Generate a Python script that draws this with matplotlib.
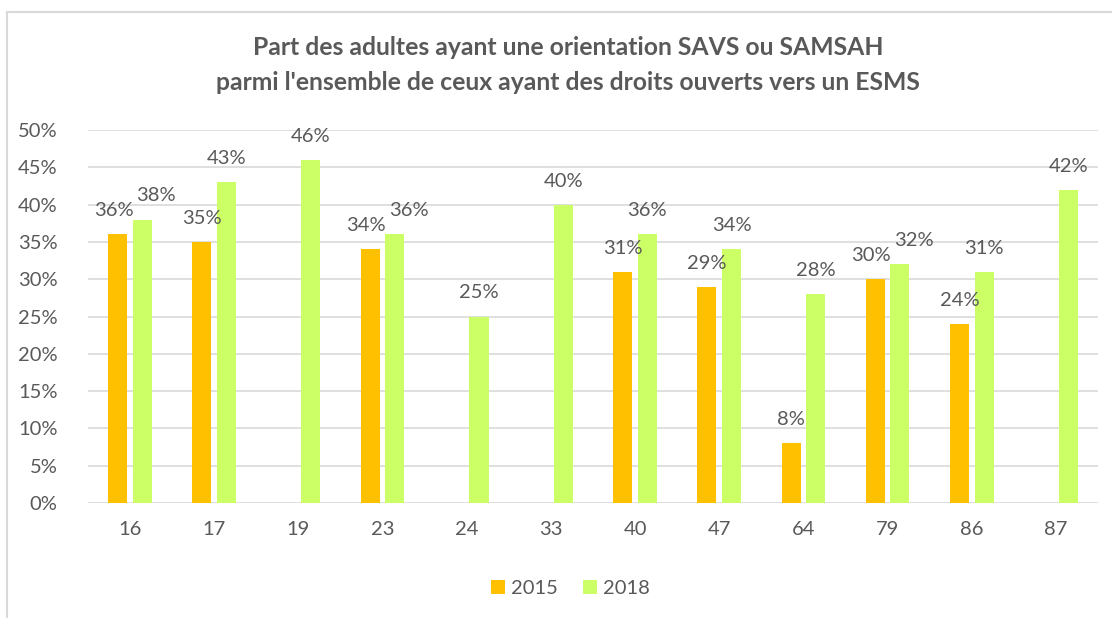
import numpy as np
import matplotlib.pyplot as plt
from matplotlib.patches import Rectangle
from matplotlib.ticker import PercentFormatter

plt.rcParams['font.family'] = ['Lato', 'DejaVu Sans']

departements = ["16", "17", "19", "23", "24", "33", "40", "47", "64", "79", "86", "87"]
part_2015 = [36, 35, None, 34, None, None, 31, 29, 8, 30, 24, None]
part_2018 = [38, 43, 46, 36, 25, 40, 36, 34, 28, 32, 31, 42]

col_2015 = "#FFC000"
col_2018 = "#CCFF66"
txt_col = "#595959"

fig = plt.figure(figsize=(11.12, 6.18), dpi=100)
fig.patches.append(Rectangle((7 / 1112, -0.1), 1.2, 1.1 - 12 / 618, transform=fig.transFigure,
                             fill=False, edgecolor="#d9d9d9", linewidth=1.5))
ax = fig.add_axes([0.0791, 0.1861, 0.9083, 0.6035])

x = np.arange(len(departements))
w = 0.226
off = 0.146
v15 = np.array([np.nan if v is None else v for v in part_2015], dtype=float)
v18 = np.array(part_2018, dtype=float)

ax.bar(x - off, np.nan_to_num(v15), w, color=col_2015, label="2015", zorder=2)
ax.bar(x + off, v18, w, color=col_2018, label="2018", zorder=2)

# labels au-dessus des barres, écartés quand les deux se chevauchent
for i in range(len(x)):
    both = not np.isnan(v15[i])
    close = both and abs(v15[i] - v18[i]) < 3
    if both:
        ax.annotate(f"{int(v15[i])}%", (x[i] - off, v15[i]), xytext=(-3 if close else 0, 17),
                    textcoords="offset points", ha="center", va="center",
                    fontsize=14.5, color=txt_col)
    ax.annotate(f"{int(v18[i])}%", (x[i] + off, v18[i]), xytext=(10 if close else 0, 17),
                textcoords="offset points", ha="center", va="center",
                fontsize=14.5, color=txt_col)

ax.set_xlim(-0.5, len(x) - 0.5)
ax.set_ylim(0, 50)
ax.set_yticks(np.arange(0, 51, 5))
ax.yaxis.set_major_formatter(PercentFormatter(decimals=0))
ax.set_xticks(x)
ax.set_xticklabels(departements)
ax.grid(axis="y", color="#d9d9d9", linewidth=1.2, zorder=0)
ax.tick_params(axis="both", length=0, labelsize=14.5, colors=txt_col)
ax.tick_params(axis="x", pad=13)
ax.tick_params(axis="y", pad=22)
for s in ax.spines.values():
    s.set_visible(False)

fig.text(0.511, 0.923, "Part des adultes ayant une orientation SAVS ou SAMSAH",
         ha="center", va="center", fontsize=17.8, fontweight="bold", color=txt_col)
fig.text(0.511, 0.866, "parmi l'ensemble de ceux ayant des droits ouverts vers un ESMS",
         ha="center", va="center", fontsize=17.8, fontweight="bold", color=txt_col)

fig.legend(loc="center", bbox_to_anchor=(0.513, 0.048), ncol=2, frameon=False,
           fontsize=14.5, labelcolor=txt_col, handlelength=0.7, handleheight=0.7,
           handletextpad=0.3, columnspacing=1.2)

fig.savefig("out.png", dpi=100)
